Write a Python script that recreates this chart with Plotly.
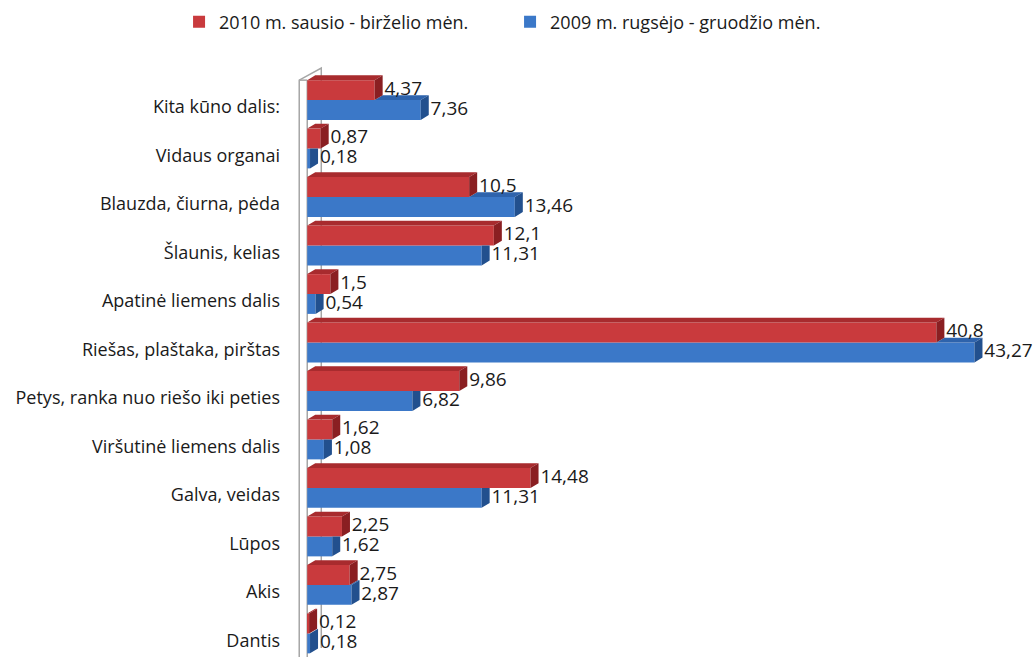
import plotly.graph_objects as go

categories = ["Dantis", "Akis", "Lūpos", "Galva, veidas", "Viršutinė liemens dalis",
              "Petys, ranka nuo riešo iki peties", "Riešas, plaštaka, pirštas",
              "Apatinė liemens dalis", "Šlaunis, kelias", "Blauzda, čiurna, pėda",
              "Vidaus organai", "Kita kūno dalis:"]
series_2010 = [0.12, 2.75, 2.25, 14.48, 1.62, 9.86, 40.8, 1.5, 12.1, 10.5, 0.87, 4.37]
series_2009 = [0.18, 2.87, 1.62, 11.31, 1.08, 6.82, 43.27, 0.54, 11.31, 13.46, 0.18, 7.36]
name_2010 = "2010 m. sausio - birželio mėn."
name_2009 = "2009 m. rugsėjo - gruodžio mėn."

FONT = "Open Sans"
H = 0.41      # bar front thickness (category units)
DX = 0.52     # 3D depth along x (value units)
DY = 0.10     # 3D depth along y (category units)
LABEL_GAP = 0.12

RED = dict(front="#C93A3D", top="#A82B2E", side="#8A1F22")
BLUE = dict(front="#3B78C8", top="#2E63AC", side="#22508E")


def fmt(v):
    return ("%g" % v).replace(".", ",")


def polys(shapes):
    xs, ys = [], []
    for pts in shapes:
        for (x, y) in pts + [pts[0]]:
            xs.append(x)
            ys.append(y)
        xs.append(None)
        ys.append(None)
    return xs, ys


idx = list(range(len(categories)))
fig = go.Figure()

# front faces (bars)
fig.add_trace(go.Bar(y=[i - H / 2 for i in idx], x=series_2009, orientation="h", width=H,
                     name=name_2009, marker=dict(color=BLUE["front"], line=dict(width=0)),
                     hoverinfo="x"))
fig.add_trace(go.Bar(y=[i + H / 2 for i in idx], x=series_2010, orientation="h", width=H,
                     name=name_2010, marker=dict(color=RED["front"], line=dict(width=0)),
                     hoverinfo="x"))

# blue top (visible part) and side faces
blue_top, blue_side = [], []
for i, vb, vr in zip(idx, series_2009, series_2010):
    if vb > vr:
        blue_top.append([(vr, i), (vr + DX, i + DY), (vb + DX, i + DY), (vb, i)])
        blue_side.append([(vb, i - H), (vb + DX, i - H + DY), (vb + DX, i + DY), (vb, i)])
    else:
        blue_side.append([(vb, i - H), (vb + DX, i - H + DY), (vb + DX, i), (vb, i)])
# red top and side faces
red_top, red_side = [], []
for i, vr in zip(idx, series_2010):
    red_top.append([(0, i + H), (DX, i + H + DY), (vr + DX, i + H + DY), (vr, i + H)])
    red_side.append([(vr, i), (vr + DX, i + DY), (vr + DX, i + H + DY), (vr, i + H)])

for shapes, col in [(blue_top, BLUE["top"]), (blue_side, BLUE["side"]),
                    (red_top, RED["top"]), (red_side, RED["side"])]:
    xs, ys = polys(shapes)
    fig.add_trace(go.Scatter(x=xs, y=ys, mode="lines", fill="toself", fillcolor=col,
                             line=dict(width=0, color=col), showlegend=False,
                             hoverinfo="skip"))

# value labels
fig.add_trace(go.Scatter(x=[v + DX + LABEL_GAP for v in series_2010], y=[i + H / 2 for i in idx],
                         mode="text", text=[fmt(v) for v in series_2010],
                         textposition="middle right", showlegend=False, hoverinfo="skip",
                         textfont=dict(family=FONT, size=19, color="#1a1a1a"), cliponaxis=False))
fig.add_trace(go.Scatter(x=[v + DX + LABEL_GAP for v in series_2009], y=[i - H / 2 for i in idx],
                         mode="text", text=[fmt(v) for v in series_2009],
                         textposition="middle right", showlegend=False, hoverinfo="skip",
                         textfont=dict(family=FONT, size=19, color="#1a1a1a"), cliponaxis=False))

# wall of the 3D frame
WALL = "#A6A6A6"
fig.add_shape(type="path", xref="x", yref="y", layer="below",
              path="M -0.52,-0.6 L -0.52,11.41 L 0.91,11.66 L 0.91,-0.3",
              line=dict(color=WALL, width=1.5))
fig.add_shape(type="line", xref="x", yref="y", layer="below",
              x0=0, x1=0, y0=-0.6, y1=11.41, line=dict(color=WALL, width=1.5))
fig.add_shape(type="line", xref="x", yref="y", layer="below",
              x0=-0.52, x1=0, y0=11.41, y1=11.41, line=dict(color=WALL, width=1.5))

fig.update_layout(
    width=1035, height=657,
    margin=dict(l=298, r=20, t=60, b=0, autoexpand=False),
    barmode="overlay",
    plot_bgcolor="white", paper_bgcolor="white",
    font=dict(family=FONT, size=18, color="#1a1a1a"),
    legend=dict(orientation="h", xref="container", yref="container",
                x=0.173, xanchor="left", y=1 - 22 / 657, yanchor="middle",
                traceorder="reversed", font=dict(family=FONT, size=18),
                itemwidth=30, entrywidth=286),
    xaxis=dict(range=[-0.6, 45.9], showgrid=False, showticklabels=False, zeroline=False,
               showline=False, fixedrange=True),
    yaxis=dict(range=[-0.485, 11.825], showgrid=False, zeroline=False, showline=False,
               tickmode="array", tickvals=[i - 0.145 for i in idx], ticktext=categories,
               ticks="", ticklabelstandoff=17, automargin=False, fixedrange=True,
               tickfont=dict(family=FONT, size=18)),
    showlegend=True,
)
fig.write_html("out.html", config={"displayModeBar": False},
               post_script="document.body.style.margin='0';document.body.style.padding='0';")
